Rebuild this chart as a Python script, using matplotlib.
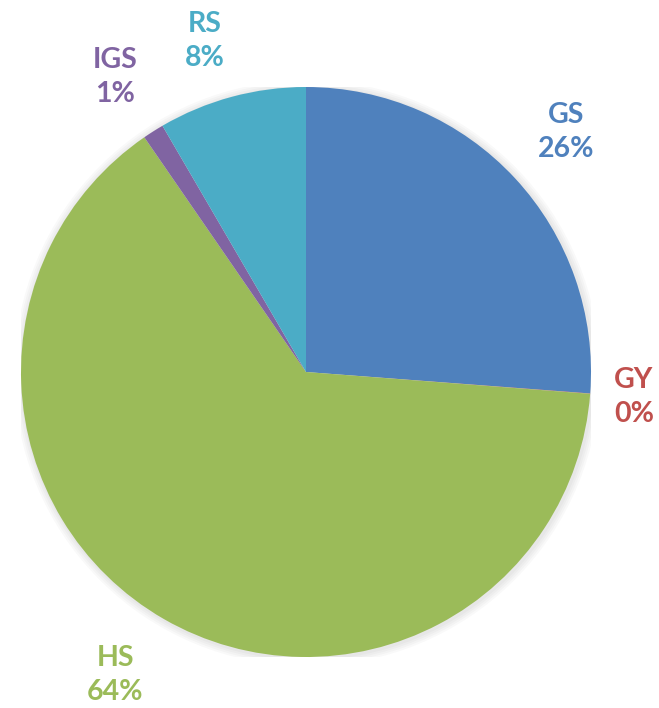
import matplotlib
matplotlib.use("Agg")
import matplotlib.pyplot as plt
from matplotlib.patches import Circle

categories = ["GS", "GY", "HS", "IGS", "RS"]
values = [26.2, 0.02, 64.18, 1.2, 8.4]
pct_labels = ["26%", "0%", "64%", "1%", "8%"]
colors = ["#4F81BD", "#C0504D", "#9BBB59", "#8064A2", "#4BACC6"]
label_pos = [(0.912, 0.842), (1.151, -0.088), (-0.670, -1.063), (-0.670, 1.035), (-0.354, 1.161)]

W, H = 659, 708
fig = plt.figure(figsize=(W / 100, H / 100), dpi=100)
cx, cy, r = 306, 372, 285
ax = fig.add_axes([(cx - r) / W, (H - cy - r) / H, 2 * r / W, 2 * r / H])
ax.set_xlim(-1, 1)
ax.set_ylim(-1, 1)
ax.set_aspect("equal")
ax.axis("off")

# soft shadow
for i in range(4):
    ax.add_patch(Circle((0.004, -0.004), 1.0 + 0.007 * (i + 1), color="black", alpha=0.025, lw=0, zorder=0))

ax.pie(values, colors=colors, startangle=90, counterclock=False, radius=1.0,
       wedgeprops=dict(linewidth=0, zorder=2), frame=True)
ax.set_xlim(-1, 1)
ax.set_ylim(-1, 1)
ax.axis("off")

for cat, pct, col, (x, y) in zip(categories, pct_labels, colors, label_pos):
    ax.text(x, y, f"{cat}\n{pct}", ha="center", va="center", color=col, fontsize=20.5,
            fontweight="bold", family=["Lato", "DejaVu Sans"], linespacing=1.4, clip_on=False)

fig.savefig("out.png", dpi=100, facecolor="white")
